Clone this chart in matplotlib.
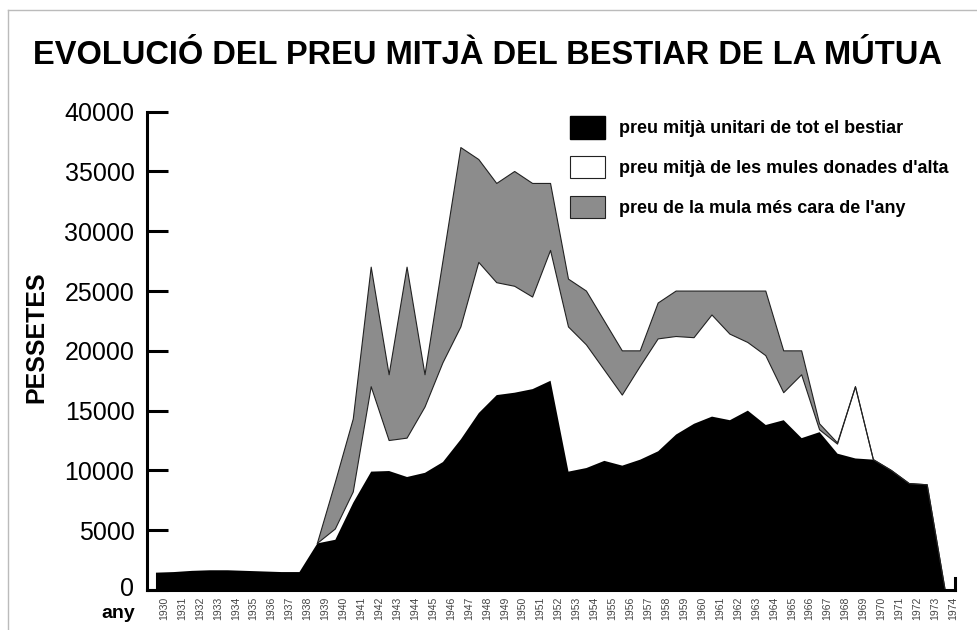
import numpy as np
import matplotlib.pyplot as plt
from matplotlib.patches import Patch
from matplotlib.lines import Line2D
from matplotlib.transforms import ScaledTranslation

plt.rcParams['font.family'] = ['Liberation Sans', 'DejaVu Sans']

# dades (llegides del gràfic)
anys = list(range(1930, 1975))
nan = np.nan

# preu mitjà unitari de tot el bestiar
preu_unitari = [1450, 1500, 1600, 1650, 1650, 1600, 1550, 1500, 1500,
                3900, 4200, 7300, 9900, 9950, 9450, 9800, 10700, 12600,
                14800, 16300, 16500, 16800, 17500, 9900, 10200, 10800,
                10400, 10900, 11600, 13000, 13900, 14500, 14200, 15000,
                13800, 14200, 12700, 13200, 11400, 11000, 10900, 10000,
                8900, 8800, 0]

# preu mitjà de les mules donades d'alta
preu_mules = [nan, nan, nan, nan, nan, nan, nan, nan, nan,
              3900, 5100, 8200, 17000, 12500, 12700, 15300, 19000, 22000,
              27400, 25700, 25400, 24500, 28400, 22000, 20500, 18400,
              16300, 18700, 21000, 21200, 21100, 23000, 21400, 20700,
              19600, 16500, 18000, 13400, 12200, 17000, 10900, 10000,
              8900, 8800, 0]

# preu de la mula més cara de l'any
preu_max = [nan, nan, nan, nan, nan, nan, nan, nan, nan,
            3900, 9000, 14300, 27000, 18000, 27000, 18000, 27500, 37000,
            36000, 34000, 35000, 34000, 34000, 26000, 25000, 22500,
            20000, 20000, 24000, 25000, 25000, 25000, 25000, 25000,
            25000, 20000, 20000, 13900, 12300, 17000, 10900, 10000,
            8900, 8800, 0]

etiquetes = ['preu mitjà unitari de tot el bestiar',
             "preu mitjà de les mules donades d'alta",
             "preu de la mula més cara de l'any"]

GRIS = '#8c8c8c'
VORA = '#222222'

fig = plt.figure(figsize=(9.78, 6.3), dpi=100)
ax = fig.add_axes([147 / 978, 40 / 630, (955 - 147) / 978, (590 - 111.7) / 630])

x = np.array(anys)
ax.fill_between(x, 0, preu_max, facecolor=GRIS, linewidth=0)
ax.plot(x, preu_max, color=VORA, lw=0.8)
ax.fill_between(x, 0, preu_mules, facecolor='white', linewidth=0)
ax.plot(x, preu_mules, color=VORA, lw=0.8)
ax.fill_between(x, 0, preu_unitari, facecolor='black', linewidth=0)

ax.set_xlim(1929.5, 1974.55)
ax.set_ylim(0, 40000)

ax.set_yticks(range(0, 40001, 5000))
ax.set_yticklabels([str(v) for v in range(0, 40001, 5000)])
ax.tick_params(axis='y', direction='in', length=15, width=2.2, pad=9,
               labelsize=18)
ax.set_xticks(anys)
ax.set_xticklabels([str(a) for a in anys], rotation=90, fontsize=7.5,
                   color='#444444')
ax.tick_params(axis='x', length=0, pad=5)
offset = ScaledTranslation(0.08, 0, fig.dpi_scale_trans)
for lbl in ax.get_xticklabels():
    lbl.set_transform(lbl.get_transform() + offset)
# el "0" una mica més amunt, com a l'original
ax.get_yticklabels()[0].set_transform(
    ax.get_yticklabels()[0].get_transform()
    + ScaledTranslation(0, 0.04, fig.dpi_scale_trans))

ax.spines['top'].set_visible(False)
ax.spines['right'].set_bounds(0, 1000)
for s in ['left', 'bottom', 'right']:
    ax.spines[s].set_linewidth(2.2)

fig.text(36 / 978, 1 - 337 / 630, 'PESSETES', rotation=90, ha='center',
         va='center', fontsize=18, fontweight='bold')
fig.text(118 / 978, 1 - 614 / 630, 'any', ha='center', va='center',
         fontsize=14, fontweight='bold')
fig.text(487 / 978, 1 - 55 / 630,
         'EVOLUCIÓ DEL PREU MITJÀ DEL BESTIAR DE LA MÚTUA',
         ha='center', va='center', fontsize=23.5, fontweight='bold')

handles = [Patch(facecolor='black', edgecolor='black'),
           Patch(facecolor='white', edgecolor=VORA, linewidth=0.8),
           Patch(facecolor=GRIS, edgecolor=VORA, linewidth=0.8)]
ax.legend(handles, etiquetes, loc='upper left',
          bbox_to_anchor=(570 / 978, 1 - 116 / 630),
          bbox_transform=fig.transFigure, frameon=False,
          prop={'size': 13, 'weight': 'bold'}, borderpad=0,
          handlelength=1.94, handleheight=1.55, handletextpad=0.8,
          labelspacing=0.95, borderaxespad=0)

# vora de la pàgina escanejada
fig.add_artist(Line2D([8 / 978, 1], [1 - 10 / 630, 1 - 10 / 630],
                      color='#bbbbbb', lw=1, transform=fig.transFigure))
fig.add_artist(Line2D([8 / 978, 8 / 978], [0, 1 - 10 / 630],
                      color='#bbbbbb', lw=1, transform=fig.transFigure))

fig.savefig('out.png', dpi=100)
